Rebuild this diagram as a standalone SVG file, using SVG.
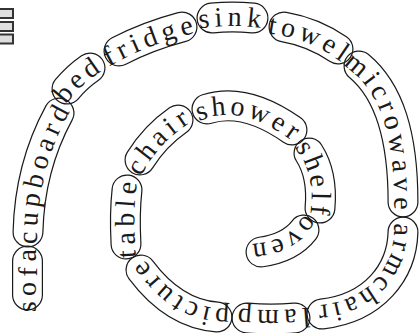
<svg xmlns="http://www.w3.org/2000/svg" width="420" height="333" viewBox="0 0 420 333">
<style>
.seg{fill:none;stroke-linecap:round}
.o{stroke:#1a1a1a;stroke-width:31}
.k{stroke:#000;stroke-width:28.6}
.t{font-family:"Liberation Serif","Times New Roman",serif;font-size:28px;letter-spacing:5.5px;fill:#1a1a1a;text-anchor:middle}
.bar{fill:#dedede;stroke:#333;stroke-width:2}
</style>
<defs>
<path id="w1" class="seg" d="M27.5,295 L27.5,261"/>
<path id="w2" class="seg" d="M28,232 C29,190 40,148 59,113"/>
<path id="w3" class="seg" d="M67,89 Q77,77 90,68"/>
<path id="w4" class="seg" d="M119,51 Q148,36 182,27"/>
<path id="w5" class="seg" d="M212,18 Q232,16 253,18"/>
<path id="w6" class="seg" d="M284,27 Q313,32 338,49"/>
<path id="w7" class="seg" d="M359,66 C389,91 403,135 403,202"/>
<path id="w8" class="seg" d="M403,232 C402,272 374,308 322,314"/>
<path id="w9" class="seg" d="M295,318 Q271,320 247,318"/>
<path id="w10" class="seg" d="M217,317 C190,315 165,302 141,270"/>
<path id="w11" class="seg" d="M126,244 C125,225 125,208 127,190"/>
<path id="w12" class="seg" d="M140,160 Q155,136 178,120"/>
<path id="w13" class="seg" d="M207,109 Q245,97 292,130"/>
<path id="w14" class="seg" d="M309,153 Q323,175 320,208"/>
<path id="w15" class="seg" d="M304,230 Q290,248 261,252"/>
<path id="x1" d="M27.5,325 L27.5,231"/>
<path id="x2" d="M27.3,262 L28,232 C29,190 40,148 59,113 L73.3,86.6"/>
<path id="x3" d="M47.8,112 L67,89 Q77,77 90,68 L114.7,50.9"/>
<path id="x4" d="M92.3,64.8 L119,51 Q148,36 182,27 L211,19.3"/>
<path id="x5" d="M182.1,21 L212,18 Q232,16 253,18 L282.9,20.9"/>
<path id="x6" d="M254.4,21.9 L284,27 Q313,32 338,49 L362.8,65.9"/>
<path id="x7" d="M335.7,46.8 L359,66 C389,91 403,135 403,202 L403,232"/>
<path id="x8" d="M403.75,202 L403,232 C402,272 374,308 322,314 L292.2,317.4"/>
<path id="x9" d="M324.9,315.5 L295,318 Q271,320 247,318 L217.1,315.5"/>
<path id="x10" d="M246.9,319.2 L217,317 C190,315 165,302 141,270 L123,246"/>
<path id="x11" d="M127.6,274 L126,244 C125,225 125,208 127,190 L130.3,160.2"/>
<path id="x12" d="M124.1,185.4 L140,160 Q155,136 178,120 L202.6,102.9"/>
<path id="x13" d="M178.4,118 L207,109 Q245,97 292,130 L316.5,147.2"/>
<path id="x14" d="M292.9,127.7 L309,153 Q323,175 320,208 L317.3,237.9"/>
<path id="x15" d="M322.4,206.3 L304,230 Q290,248 261,252 L231.3,256.1"/>
<mask id="m1" maskUnits="userSpaceOnUse" x="0" y="0" width="420" height="333"><rect width="420" height="333" fill="#fff"/><use href="#w1" class="k"/></mask>
<mask id="m2" maskUnits="userSpaceOnUse" x="0" y="0" width="420" height="333"><rect width="420" height="333" fill="#fff"/><use href="#w2" class="k"/></mask>
<mask id="m3" maskUnits="userSpaceOnUse" x="0" y="0" width="420" height="333"><rect width="420" height="333" fill="#fff"/><use href="#w3" class="k"/></mask>
<mask id="m4" maskUnits="userSpaceOnUse" x="0" y="0" width="420" height="333"><rect width="420" height="333" fill="#fff"/><use href="#w4" class="k"/></mask>
<mask id="m5" maskUnits="userSpaceOnUse" x="0" y="0" width="420" height="333"><rect width="420" height="333" fill="#fff"/><use href="#w5" class="k"/></mask>
<mask id="m6" maskUnits="userSpaceOnUse" x="0" y="0" width="420" height="333"><rect width="420" height="333" fill="#fff"/><use href="#w6" class="k"/></mask>
<mask id="m7" maskUnits="userSpaceOnUse" x="0" y="0" width="420" height="333"><rect width="420" height="333" fill="#fff"/><use href="#w7" class="k"/></mask>
<mask id="m8" maskUnits="userSpaceOnUse" x="0" y="0" width="420" height="333"><rect width="420" height="333" fill="#fff"/><use href="#w8" class="k"/></mask>
<mask id="m9" maskUnits="userSpaceOnUse" x="0" y="0" width="420" height="333"><rect width="420" height="333" fill="#fff"/><use href="#w9" class="k"/></mask>
<mask id="m10" maskUnits="userSpaceOnUse" x="0" y="0" width="420" height="333"><rect width="420" height="333" fill="#fff"/><use href="#w10" class="k"/></mask>
<mask id="m11" maskUnits="userSpaceOnUse" x="0" y="0" width="420" height="333"><rect width="420" height="333" fill="#fff"/><use href="#w11" class="k"/></mask>
<mask id="m12" maskUnits="userSpaceOnUse" x="0" y="0" width="420" height="333"><rect width="420" height="333" fill="#fff"/><use href="#w12" class="k"/></mask>
<mask id="m13" maskUnits="userSpaceOnUse" x="0" y="0" width="420" height="333"><rect width="420" height="333" fill="#fff"/><use href="#w13" class="k"/></mask>
<mask id="m14" maskUnits="userSpaceOnUse" x="0" y="0" width="420" height="333"><rect width="420" height="333" fill="#fff"/><use href="#w14" class="k"/></mask>
<mask id="m15" maskUnits="userSpaceOnUse" x="0" y="0" width="420" height="333"><rect width="420" height="333" fill="#fff"/><use href="#w15" class="k"/></mask>
</defs>
<rect width="420" height="333" fill="#fff"/>
<g id="icon">
<rect class="bar" x="-2" y="9" width="15" height="9"/>
<rect class="bar" x="-2" y="22" width="15" height="9"/>
<rect class="bar" x="-2" y="34.5" width="15" height="9"/>
</g>
<g id="sofa"><use href="#w1" class="o" mask="url(#m1)"/><text class="t"><textPath href="#x1" startOffset="50%"><tspan dy="9">sofa</tspan></textPath></text></g>
<g id="cupboard"><use href="#w2" class="o" mask="url(#m2)"/><text class="t"><textPath href="#x2" startOffset="50%"><tspan dy="9">cupboard</tspan></textPath></text></g>
<g id="bed"><use href="#w3" class="o" mask="url(#m3)"/><text class="t"><textPath href="#x3" startOffset="50%"><tspan dy="9">bed</tspan></textPath></text></g>
<g id="fridge"><use href="#w4" class="o" mask="url(#m4)"/><text class="t"><textPath href="#x4" startOffset="50%"><tspan dy="9">fridge</tspan></textPath></text></g>
<g id="sink"><use href="#w5" class="o" mask="url(#m5)"/><text class="t"><textPath href="#x5" startOffset="50%"><tspan dy="9">sink</tspan></textPath></text></g>
<g id="towel"><use href="#w6" class="o" mask="url(#m6)"/><text class="t"><textPath href="#x6" startOffset="50%"><tspan dy="9">towel</tspan></textPath></text></g>
<g id="microwave"><use href="#w7" class="o" mask="url(#m7)"/><text class="t"><textPath href="#x7" startOffset="50%"><tspan dy="9">microwave</tspan></textPath></text></g>
<g id="armchair"><use href="#w8" class="o" mask="url(#m8)"/><text class="t"><textPath href="#x8" startOffset="50%"><tspan dy="9">armchair</tspan></textPath></text></g>
<g id="lamp"><use href="#w9" class="o" mask="url(#m9)"/><text class="t"><textPath href="#x9" startOffset="50%"><tspan dy="9">lamp</tspan></textPath></text></g>
<g id="picture"><use href="#w10" class="o" mask="url(#m10)"/><text class="t"><textPath href="#x10" startOffset="50%"><tspan dy="9">picture</tspan></textPath></text></g>
<g id="table"><use href="#w11" class="o" mask="url(#m11)"/><text class="t"><textPath href="#x11" startOffset="50%"><tspan dy="9">table</tspan></textPath></text></g>
<g id="chair"><use href="#w12" class="o" mask="url(#m12)"/><text class="t"><textPath href="#x12" startOffset="50%"><tspan dy="9">chair</tspan></textPath></text></g>
<g id="shower"><use href="#w13" class="o" mask="url(#m13)"/><text class="t"><textPath href="#x13" startOffset="50%"><tspan dy="9">shower</tspan></textPath></text></g>
<g id="shelf"><use href="#w14" class="o" mask="url(#m14)"/><text class="t"><textPath href="#x14" startOffset="50%"><tspan dy="9">shelf</tspan></textPath></text></g>
<g id="oven"><use href="#w15" class="o" mask="url(#m15)"/><text class="t"><textPath href="#x15" startOffset="50%"><tspan dy="9">oven</tspan></textPath></text></g>
</svg>
